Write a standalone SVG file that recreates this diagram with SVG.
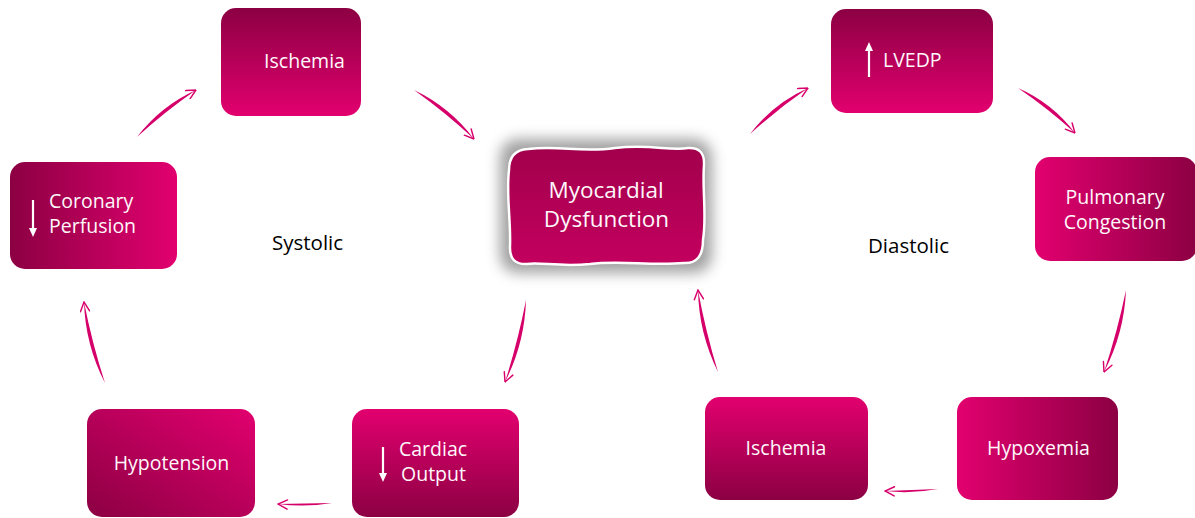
<svg xmlns="http://www.w3.org/2000/svg" width="1195" height="518" viewBox="0 0 1195 518">
<defs>
<linearGradient id="gTB" x1="0" y1="0" x2="0" y2="1"><stop offset="0" stop-color="#8c0043"/><stop offset="1" stop-color="#e2006f"/></linearGradient>
<linearGradient id="gBT" x1="0" y1="0" x2="0" y2="1"><stop offset="0" stop-color="#e2006f"/><stop offset="1" stop-color="#8c0043"/></linearGradient>
<linearGradient id="gLR" x1="0" y1="0" x2="1" y2="0"><stop offset="0" stop-color="#8c0043"/><stop offset="1" stop-color="#e2006f"/></linearGradient>
<linearGradient id="gRL" x1="0" y1="0" x2="1" y2="0"><stop offset="0" stop-color="#e2006f"/><stop offset="1" stop-color="#8c0043"/></linearGradient>
<linearGradient id="gDg" x1="1" y1="0" x2="0" y2="1"><stop offset="0" stop-color="#e2006f"/><stop offset="1" stop-color="#8c0043"/></linearGradient>
<linearGradient id="gMy" x1="0" y1="0" x2="0" y2="1"><stop offset="0" stop-color="#a2004c"/><stop offset="1" stop-color="#c3005f"/></linearGradient>
<filter id="blur" x="-30%" y="-30%" width="160%" height="160%"><feGaussianBlur stdDeviation="7"/></filter>
<marker id="ah" viewBox="0 0 10 10" refX="9.5" refY="5" markerUnits="userSpaceOnUse" markerWidth="11" markerHeight="11" orient="auto">
<path d="M1,0.8 L9.5,5 L1,9.2" fill="none" stroke="#d8006b" stroke-width="1.3" stroke-linecap="round"/>
</marker>
</defs>
<style>
.bx{stroke:none}
.t{font-family:"Open Sans","Liberation Sans",sans-serif;font-size:19.5px;fill:#fff8fb}
.tc{text-anchor:middle}
.lb{font-family:"Open Sans","Liberation Sans",sans-serif;font-size:20.5px;fill:#000}
.ar{fill:#d6006a}
.hd{fill:none;stroke:none}
.wa{stroke:#ffffff;stroke-width:2.2;fill:none}
.wh{fill:#ffffff}
</style>

<g id="connectors">
<path class="ar" d="M137,137 Q165,111.5 196,90 Q160.6,106.1 137,137 Z"/>
<path class="hd" d="M162.8,108.8 L196,90" marker-end="url(#ah)"/>
<path class="ar" d="M414,90 Q450,107.2 474,139 Q445.6,112.6 414,90 Z"/>
<path class="hd" d="M447.8,109.9 L474,139" marker-end="url(#ah)"/>
<path class="ar" d="M526,300 Q524.7,343.4 505,382 Q517.9,341.6 526,300 Z"/>
<path class="hd" d="M521.3,342.5 L505,382" marker-end="url(#ah)"/>
<path class="ar" d="M332,503 Q305,507.5 278,504 Q305,503.5 332,503 Z"/>
<path class="hd" d="M305,505.5 L278,504" marker-end="url(#ah)"/>
<path class="ar" d="M105,383 Q85.3,344.9 84,302 Q92.1,343.1 105,383 Z"/>
<path class="hd" d="M88.7,344 L84,302" marker-end="url(#ah)"/>
<path class="ar" d="M750,134 Q773.1,103.6 808,88 Q777.5,109 750,134 Z"/>
<path class="hd" d="M775.3,106.3 L808,88" marker-end="url(#ah)"/>
<path class="ar" d="M1018,88 Q1052.4,103.1 1075,133 Q1048,108.5 1018,88 Z"/>
<path class="hd" d="M1050.2,105.8 L1075,133" marker-end="url(#ah)"/>
<path class="ar" d="M1126,290 Q1124.2,333.5 1104,372 Q1117.4,331.7 1126,290 Z"/>
<path class="hd" d="M1120.8,332.6 L1104,372" marker-end="url(#ah)"/>
<path class="ar" d="M938,489 Q911.5,494 885,491 Q911.5,490 938,489 Z"/>
<path class="hd" d="M911.5,492 L885,491" marker-end="url(#ah)"/>
<path class="ar" d="M718,372 Q698.8,333.2 698,290 Q705.6,331.6 718,372 Z"/>
<path class="hd" d="M702.2,332.4 L698,290" marker-end="url(#ah)"/>
</g>

<g id="ischemia-top">
<rect class="bx" x="221" y="8" width="140" height="108" rx="15" fill="url(#gTB)"/>
<text class="t tc" x="304.5" y="68">Ischemia</text>
</g>

<g id="coronary-perfusion">
<rect class="bx" x="10" y="162" width="167" height="107" rx="15" fill="url(#gLR)"/>
<line class="wa" x1="33" y1="200" x2="33" y2="229"/>
<polygon class="wh" points="29,228 37,228 33,237"/>
<text class="t" x="49" y="208">Coronary</text>
<text class="t" x="49" y="233">Perfusion</text>
</g>

<g id="myocardial-dysfunction">
<rect x="500" y="139" width="212" height="134" rx="18" fill="#8a8a8a" opacity="0.8" filter="url(#blur)"/>
<path d="M528,149 C560,145 580,153 615,148 C650,144 670,151 688,148 Q705,147 704,165 C702,190 707,215 703,240 Q703,264 684,263 C650,266 620,260 590,264 C560,267 540,262 527,264 Q509,265 510,246 C511,220 506,195 509,170 Q509,150 528,149 Z" fill="url(#gMy)" stroke="#ffffff" stroke-width="2.5"/>
<text class="t tc" x="606" y="198" style="font-size:22.5px">Myocardial</text>
<text class="t tc" x="606.5" y="227" style="font-size:22.5px">Dysfunction</text>
</g>

<g id="cardiac-output">
<rect class="bx" x="352" y="409" width="167" height="108" rx="15" fill="url(#gBT)"/>
<line class="wa" x1="383" y1="447" x2="383" y2="474"/>
<polygon class="wh" points="379,473 387,473 383,482"/>
<text class="t" x="399" y="456">Cardiac</text>
<text class="t" x="401" y="481">Output</text>
</g>

<g id="hypotension">
<rect class="bx" x="87" y="409" width="168" height="108" rx="15" fill="url(#gDg)"/>
<text class="t tc" x="171.5" y="470">Hypotension</text>
</g>

<g id="lvedp">
<rect class="bx" x="831" y="9" width="162" height="104" rx="15" fill="url(#gTB)"/>
<line class="wa" x1="869" y1="77" x2="869" y2="50"/>
<polygon class="wh" points="865,51 873,51 869,42"/>
<text class="t" x="883" y="67">LVEDP</text>
</g>

<g id="pulmonary-congestion">
<rect class="bx" x="1035" y="157" width="162" height="104" rx="15" fill="url(#gRL)"/>
<text class="t tc" x="1115" y="204">Pulmonary</text>
<text class="t tc" x="1115" y="229">Congestion</text>
</g>

<g id="hypoxemia">
<rect class="bx" x="957" y="397" width="161" height="103" rx="15" fill="url(#gRL)"/>
<text class="t tc" x="1038.5" y="455">Hypoxemia</text>
</g>

<g id="ischemia-bottom">
<rect class="bx" x="705" y="397" width="163" height="103" rx="15" fill="url(#gBT)"/>
<text class="t tc" x="786" y="455">Ischemia</text>
</g>

<g id="labels">
<text class="lb" x="272" y="250">Systolic</text>
<text class="lb" x="868" y="253">Diastolic</text>
</g>
</svg>
